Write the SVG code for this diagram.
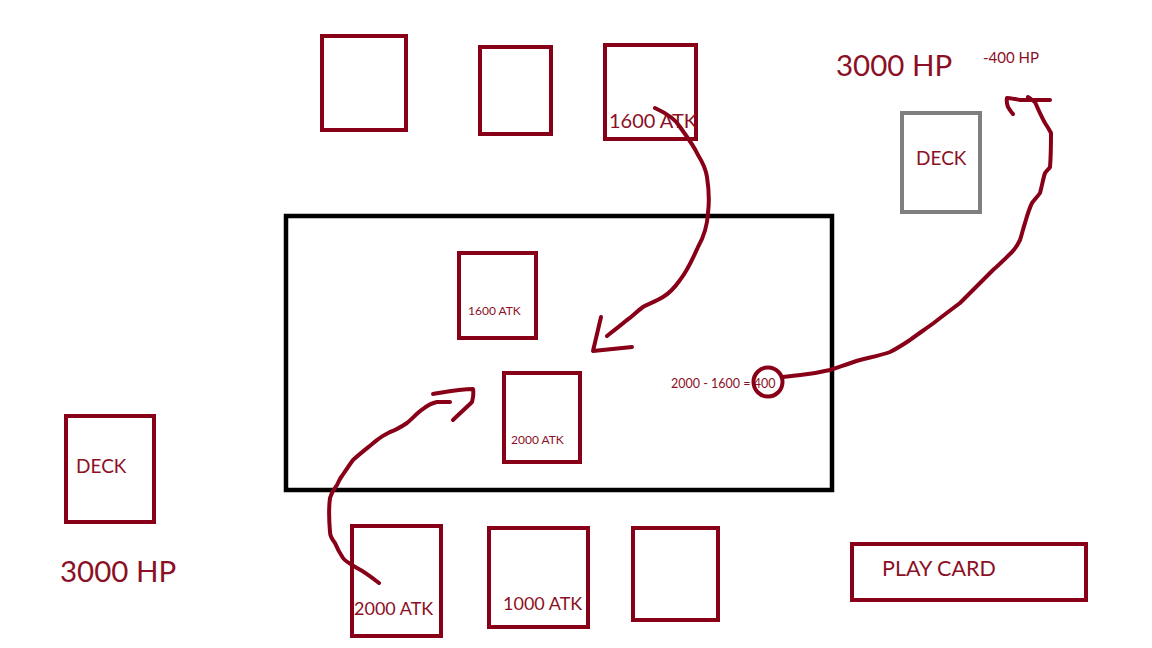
<svg xmlns="http://www.w3.org/2000/svg" width="1152" height="648" viewBox="0 0 1152 648">
<style>
.card{fill:none;stroke:#880018;stroke-width:4}
.t{font-family:Lato,"Open Sans",sans-serif;fill:#8c1025}
.ink{fill:none;stroke:#880018;stroke-width:4;stroke-linecap:round;stroke-linejoin:round}
</style>
<rect width="1152" height="648" fill="#fff"/>
<g id="board"><rect x="286" y="216" width="546" height="274" fill="none" stroke="#000" stroke-width="4.5"/></g>
<g id="opp-card1"><rect class="card" x="322" y="36" width="84" height="94"/></g>
<g id="opp-card2"><rect class="card" x="480" y="47" width="71" height="87"/></g>
<g id="opp-card3"><rect class="card" x="605" y="45" width="91" height="94"/><text class="t" x="609" y="128" font-size="20">1600 ATK</text></g>
<g id="opp-hp"><text class="t" x="836" y="76" font-size="29.5">3000 HP</text></g>
<g id="damage"><text class="t" x="983" y="63" font-size="15">-400 HP</text></g>
<g id="opp-deck"><rect x="902" y="113" width="78" height="99" fill="none" stroke="#7f7f7f" stroke-width="4"/><text class="t" x="916" y="165" font-size="19">DECK</text></g>
<g id="field-opp"><rect class="card" x="459" y="253" width="77" height="85"/><text class="t" x="468" y="315" font-size="12">1600 ATK</text></g>
<g id="field-me"><rect class="card" x="504" y="373" width="76" height="89"/><text class="t" x="511" y="444" font-size="12">2000 ATK</text></g>
<g id="calc"><text class="t" x="671" y="388" font-size="12.5">2000 - 1600 = 400</text><circle cx="768" cy="382" r="14.5" fill="none" stroke="#880018" stroke-width="4"/></g>
<g id="my-deck"><rect class="card" x="66" y="416" width="88" height="106"/><text class="t" x="76" y="473" font-size="19">DECK</text></g>
<g id="my-hp"><text class="t" x="60" y="582" font-size="29.5">3000 HP</text></g>
<g id="my-card1"><rect class="card" x="352" y="526" width="89" height="110"/><text class="t" x="354" y="615" font-size="18">2000 ATK</text></g>
<g id="my-card2"><rect class="card" x="489" y="528" width="99" height="99"/><text class="t" x="503" y="610" font-size="18">1000 ATK</text></g>
<g id="my-card3"><rect class="card" x="633" y="528" width="85" height="92"/></g>
<g id="play-card"><rect class="card" x="852" y="544" width="234" height="56"/><text class="t" x="882" y="576" font-size="21.5">PLAY CARD</text></g>
<g id="connectors">
<path class="ink" d="M655,108 C668,114 676,120 680,127 C685,134 694,146 698,155 C703,163 706,170 707,177 C709,190 709,205 708,213 C707,230 702,240 698,247 C693,258 688,270 680,280 C673,290 668,294 663,297 C655,302 648,304 643,307 C636,312 633,316 627,320 C620,326 613,331 607,336"/>
<path class="ink" d="M601,317 L593,351 L632,347"/>
<path class="ink" d="M379,583 C370,576 363,571 357,568 C350,564 345,561 343,558 C339,552 337,548 335,543 C331,538 330,535 330,532 C329,520 329,505 330,498 C332,491 335,488 337,485 C339,481 340,478 342,476 C346,470 350,464 353,460 C362,452 370,446 377,440 C382,436 386,434 390,432 C396,430 401,427 407,423 C413,418 418,412 423,409 C428,405 432,403 437,402 C442,402 446,402 450,402"/>
<path class="ink" d="M433,394 C445,392 460,389 473,389 C474,394 473,398 472,402 C466,408 459,414 453,420"/>
<path class="ink" d="M782,377 C792,376 800,375 808,374 C818,373 824,371 830,370 C842,366 850,363 860,360 C872,357 882,355 890,352 C898,348 904,344 910,340 C918,334 927,328 935,322 C944,315 952,309 960,303 C965,298 969,294 973,290 C980,283 986,277 993,270 C1000,264 1006,258 1012,252 C1016,248 1018,244 1020,240 C1022,234 1023,229 1025,223 C1027,216 1029,209 1032,203 C1035,199 1038,196 1040,193 C1042,186 1043,179 1045,173 C1047,170 1049,169 1050,167 C1051,155 1051,143 1051,133 C1049,129 1047,126 1045,123 C1041,116 1038,109 1035,102 C1032,100 1030,98 1028,97"/>
<path class="ink" d="M1050,100 L1020,100 C1014,99 1010,98 1007,98 C1006,101 1007,104 1008,107 C1010,110 1011,112 1013,114"/>
</g>
</svg>
